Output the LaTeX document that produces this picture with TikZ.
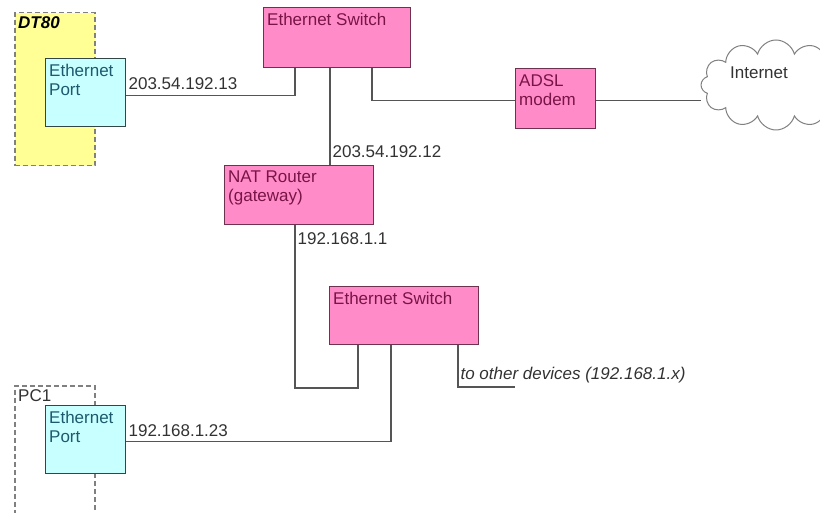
\documentclass[tikz,border=0pt]{standalone}
\usepackage{fontspec}
\setmainfont{Liberation Sans}
\usepackage{tikz}
\usetikzlibrary{shapes.symbols}
\usepackage{xcolor}
\definecolor{boxpink}{RGB}{255,140,200}
\definecolor{pinkedge}{RGB}{110,50,80}
\definecolor{pinktext}{RGB}{120,20,70}
\definecolor{portcyan}{RGB}{200,255,255}
\definecolor{portedge}{RGB}{50,70,70}
\definecolor{porttext}{RGB}{30,90,110}
\definecolor{frameyellow}{RGB}{255,255,150}
\definecolor{wiregray}{RGB}{85,85,85}
\definecolor{labelgray}{RGB}{50,50,50}

\begin{document}
\begin{tikzpicture}[x=1pt, y=-1pt, font=\fontsize{17}{19}\selectfont,
    wire/.style={draw=wiregray, line width=1.2pt},
    addr/.style={text=labelgray, inner sep=2pt},
    pinkbox/.style={draw=pinkedge, fill=boxpink, line width=1pt, anchor=north west,
        inner sep=0pt, minimum width=147pt, minimum height=60pt},
    portbox/.style={draw=portedge, fill=portcyan, line width=1pt, anchor=north west,
        inner sep=0pt, minimum width=80pt, minimum height=68pt},
    frame/.style={draw=gray, dashed, dash pattern=on 5pt off 3pt, line width=1.5pt,
        anchor=north west, inner sep=0pt, minimum width=80pt},
    intext/.style={anchor=north west, align=left, inner xsep=4pt, inner ysep=6pt}]
\useasboundingbox (0,0) rectangle (820,513);
\clip (0,0) rectangle (820,513);

% device frames
\node[frame, fill=frameyellow, minimum height=153pt,
    label={[intext, inner ysep=4pt, font=\fontsize{17}{19}\selectfont\bfseries\itshape]north west:DT80}]
    (dtframe) at (14,12) {};
\node[frame, minimum height=140pt,
    label={[intext, inner ysep=4pt, text=labelgray]north west:PC1}] (pcframe) at (14,385) {};

% ports
\node[portbox, label={[intext, text=porttext]north west:Ethernet\\Port}] (dtport) at (45,58) {};
\node[portbox, label={[intext, text=porttext]north west:Ethernet\\Port}] (pcport) at (45,405) {};

% switches, router, modem
\node[pinkbox, label={[intext, text=pinktext]north west:Ethernet Switch}] (sw1) at (263,7) {};
\node[pinkbox, minimum width=149pt, minimum height=59pt,
    label={[intext, text=pinktext]north west:NAT Router\\(gateway)}] (nat) at (224,165) {};
\node[pinkbox, minimum width=149pt, minimum height=58pt,
    label={[intext, text=pinktext]north west:Ethernet Switch}] (sw2) at (329,286) {};
\node[pinkbox, minimum width=80pt,
    label={[intext, text=pinktext]north west:ADSL\\modem}] (adsl) at (515,68) {};

% internet
\node[cloud, draw=gray, fill=white, line width=1pt, cloud puffs=12, aspect=1.7,
    minimum width=150pt, minimum height=90pt,
    label={[text=labelgray, xshift=-17pt, yshift=12pt]center:Internet}] (net) at (776,85) {};

% connections
\draw[wire] ([yshift=-3pt]dtport.east) node[addr, above right, yshift=3pt] (ipdt) {203.54.192.13}
    -| ([xshift=32pt]sw1.south west);
\draw[wire] ([xshift=67pt]sw1.south west) -- ([xshift=67pt]sw1.south west |- nat.north)
    node[addr, above right, yshift=5pt] (ipwan) {203.54.192.12};
\draw[wire] ([xshift=109pt]sw1.south west) |- ([yshift=-2pt]adsl.west);
\draw[wire] ([yshift=-2pt]adsl.east) -- ([yshift=-2pt]adsl.east -| net.west);
\draw[wire] ([xshift=71pt]nat.south west) node[addr, below right, yshift=-5pt] (iplan) {192.168.1.1}
    -- ++(0,163) -| ([xshift=29pt]sw2.south west);
\draw[wire] ([xshift=62pt]sw2.south west) |- ([yshift=-2pt]pcport.east)
    node[addr, above right, yshift=2pt] (ippc) {192.168.1.23};
\coordinate (others) at (515,387);
\draw[wire] ([xshift=129pt]sw2.south west) |- (others)
    node[addr, pos=0.5, above right, yshift=1pt, font=\fontsize{17}{19}\selectfont\itshape] (iprest)
    {to other devices (192.168.1.x)};
\end{tikzpicture}
\end{document}
